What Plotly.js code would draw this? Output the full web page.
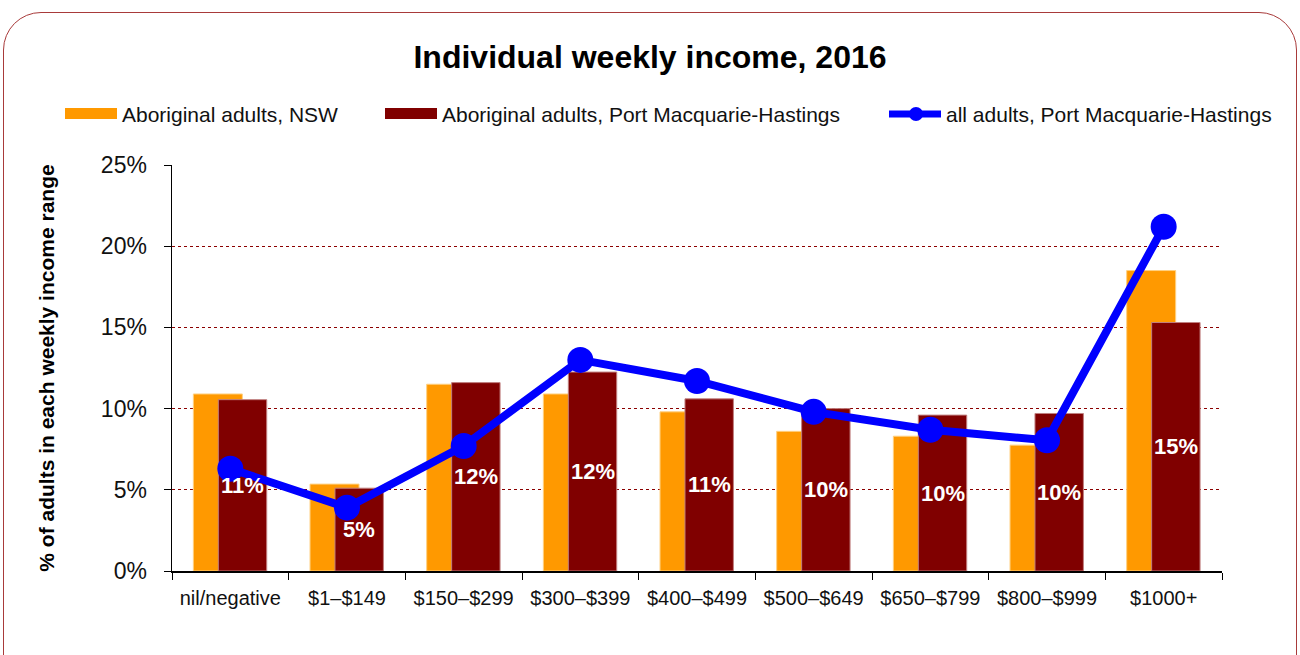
<!DOCTYPE html>
<html><head><meta charset="utf-8">
<script src="https://cdn.plot.ly/plotly-3.0.1.min.js"></script>
<style>
html,body{margin:0;padding:0;background:#fff;}
#wrap{position:relative;width:1300px;height:655px;overflow:hidden;}
#chart{position:absolute;left:0;top:0;width:1300px;height:655px;}
#frame{position:absolute;left:3px;top:12px;width:1292px;height:680px;border:1.5px solid #a83a3a;border-radius:38px;pointer-events:none;}
</style></head>
<body><div id="wrap"><div id="chart"></div><div id="frame"></div></div>
<script>
const categories = ["nil/negative","$1–$149","$150–$299","$300–$399","$400–$499","$500–$649","$650–$799","$800–$999","$1000+"];
const nswAboriginal = [10.9, 5.35, 11.5, 10.9, 9.8, 8.6, 8.3, 7.75, 18.5];
const pmhAboriginal = [10.55, 5.1, 11.6, 12.25, 10.6, 10.0, 9.6, 9.7, 15.3];
const pmhAll = [6.3, 3.9, 7.7, 13.0, 11.7, 9.8, 8.7, 8.05, 21.2];
const seriesNames = ["Aboriginal adults, NSW","Aboriginal adults, Port Macquarie-Hastings","all adults, Port Macquarie-Hastings"];
const yTicks = [0,5,10,15,20,25];

const L=172, R=1222, T=165, B=571;
const px = x => (x-L)/(R-L);
const py = y => (B-y)/(B-T);

const FONT = "Liberation Sans, Arial, sans-serif";
const barW2 = 0.415, barOff2 = -0.103;

const traces = [
  {type:'bar', x:categories, y:nswAboriginal, name:seriesNames[0],
   marker:{color:'#ff9900', line:{color:'#ffd080', width:1}}, width:0.42, offset:-0.317},
  {type:'bar', x:categories, y:pmhAboriginal, name:seriesNames[1],
   marker:{color:'#800000', line:{color:'#c08080', width:1}}, width:barW2, offset:barOff2},
  {type:'scatter', mode:'lines+markers', x:categories, y:pmhAll, name:seriesNames[2],
   line:{color:'#0000ff', width:8}, marker:{color:'#0000ff', size:26}}
];

const shapes = [
  {type:'rect', xref:'paper', yref:'paper', x0:px(65), x1:px(117), y0:py(119), y1:py(108), fillcolor:'#ff9900', line:{width:0}},
  {type:'rect', xref:'paper', yref:'paper', x0:px(385), x1:px(437), y0:py(119), y1:py(108), fillcolor:'#800000', line:{width:0}},
  {type:'line', xref:'paper', yref:'paper', x0:px(889), x1:px(941), y0:py(114), y1:py(114), line:{color:'#0000ff', width:7}},
  {type:'circle', xref:'paper', yref:'paper', x0:px(909), x1:px(923), y0:py(121), y1:py(107), fillcolor:'#0000ff', line:{width:0}}
];

const annotations = [
  {xref:'paper', yref:'paper', x:px(120), y:py(114), xanchor:'left', yanchor:'middle', showarrow:false, text:seriesNames[0], font:{size:21, color:'#111', family:FONT}},
  {xref:'paper', yref:'paper', x:px(440), y:py(114), xanchor:'left', yanchor:'middle', showarrow:false, text:seriesNames[1], font:{size:21, color:'#111', family:FONT}},
  {xref:'paper', yref:'paper', x:px(944), y:py(114), xanchor:'left', yanchor:'middle', showarrow:false, text:seriesNames[2], font:{size:21, color:'#111', family:FONT}}
];
// value labels centred in the maroon bars, drawn above the line
const catPx = (R-L)/categories.length;
categories.forEach((c,i)=>{
  annotations.push({xref:'x', yref:'y', x:c, y:pmhAboriginal[i]/2, xshift:(barOff2+barW2/2)*catPx,
    showarrow:false, xanchor:'center', yanchor:'middle',
    text:'<b>'+Math.round(pmhAboriginal[i])+'%</b>', font:{size:22, color:'#ffffff', family:FONT}});
});

const layout = {
  width:1300, height:655,
  margin:{l:L, r:1300-R, t:T, b:655-B, pad:0},
  paper_bgcolor:'rgba(0,0,0,0)', plot_bgcolor:'rgba(0,0,0,0)',
  showlegend:false, barmode:'overlay',
  font:{family:FONT, color:'#111'},
  title:{text:'<b>Individual weekly income, 2016</b>', x:0.5, xref:'container', xanchor:'center', y:1-57/655, yref:'container', yanchor:'middle', font:{size:32, family:FONT, color:'#000'}},
  xaxis:{type:'category', showgrid:false, showline:true, linecolor:'#000', linewidth:1.5,
    ticks:'outside', tickson:'boundaries', ticklen:7, tickcolor:'#000', tickwidth:1,
    ticklabelstandoff:8,
    tickfont:{size:20, family:FONT, color:'#111'}, range:[-0.5, 8.5], fixedrange:true},
  yaxis:{range:[0,25], tickvals:yTicks, ticktext:yTicks.map(v=>v+'%'), showline:true, linecolor:'#000', linewidth:1.5,
    ticks:'outside', ticklen:7, tickcolor:'#000', ticklabelstandoff:12, tickfont:{size:23, family:FONT, color:'#111'},
    showgrid:true, gridcolor:'#8b0000', gridwidth:1, griddash:'dot', zeroline:false,
    title:{text:'<b>% of adults in each weekly income range</b>', standoff:40, font:{size:21, family:FONT, color:'#000'}}},
  shapes:shapes, annotations:annotations
};

Plotly.newPlot('chart', traces, layout, {displayModeBar:false, staticPlot:true});
</script></body></html>
